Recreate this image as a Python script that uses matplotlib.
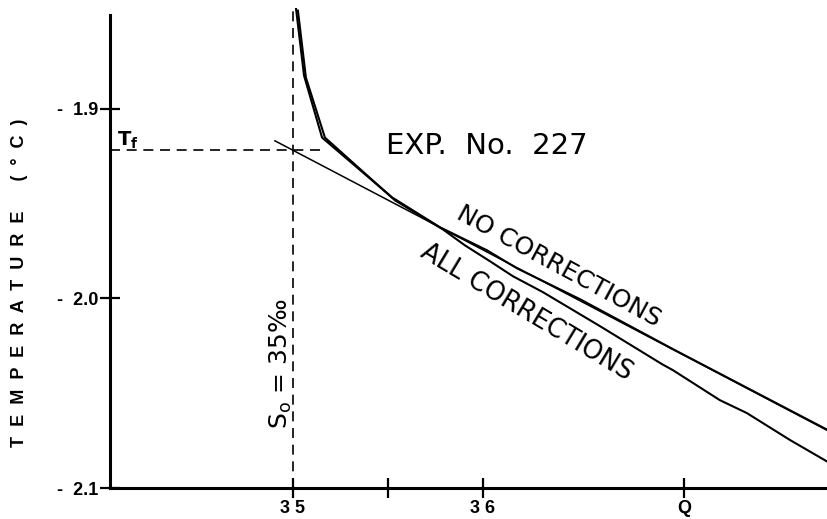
import matplotlib.pyplot as plt

# salinity (per mille) and temperature (deg C) traces
no_corr_s = [35.016, 35.058, 35.153, 35.521, 35.774, 36.021, 36.179, 36.511, 37.0, 37.816]
no_corr_t = [-1.8474, -1.8826, -1.9153, -1.9468, -1.9626, -1.9747, -1.9842, -2.0005, -2.0268, -2.0695]

all_corr_s = [35.026, 35.068, 35.168, 35.537, 35.789, 35.905, 36.037, 36.158, 36.316,
              36.616, 36.789, 36.942, 37.0, 37.247, 37.389, 37.616, 37.816]
all_corr_t = [-1.8484, -1.8837, -1.9153, -1.9484, -1.9637, -1.9721, -1.9805, -1.9884, -1.9968,
              -2.0147, -2.0253, -2.0347, -2.0379, -2.0537, -2.0605, -2.0747, -2.0863]

# straight fit through the linear part, meets S0 at the freezing point
s0 = 35.0
t_f = -1.922
fit_slope = -0.0525
fit_s = [34.905, 37.82]

x_ticks = [35.0, 35.5, 36.0, 37.06]
x_tick_labels = ['3 5', '', '3 6', 'Q']
y_ticks = [-2.1, -2.0, -1.9]
y_tick_labels = ['-  2.1', '-  2.0', '-  1.9']

fig = plt.figure(figsize=(8.28, 5.19), dpi=100)
ax = fig.add_axes([0.1329, 0.0597, 0.8671, 0.9249])
ax.set_xlim(34.037, 37.816)
ax.set_ylim(-2.1, -1.847)

for side in ('top', 'right'):
    ax.spines[side].set_visible(False)
ax.spines['left'].set_linewidth(2.2)
ax.spines['bottom'].set_linewidth(2.2)
ax.spines['left'].set_bounds(-2.1, -1.8505)

ax.set_xticks(x_ticks)
ax.set_xticklabels(x_tick_labels)
ax.set_yticks(y_ticks)
ax.set_yticklabels(y_tick_labels)
ax.tick_params(direction='inout', length=15, width=1.6, labelsize=13, pad=1)
for lab in ax.get_xticklabels() + ax.get_yticklabels():
    lab.set_fontweight('bold')
    lab.set_family('Liberation Sans')

# dashed guides for S0 and Tf
ax.plot([s0, s0], [-2.1, -1.847], color='black', lw=1.2, dashes=(6, 4))
ax.plot([34.037, 35.158], [t_f, t_f], color='black', lw=1.2, dashes=(6, 4))

# fitted line
ax.plot(fit_s, [t_f + fit_slope * (s - s0) for s in fit_s], color='black', lw=1.1)

# measured curves
ax.plot(no_corr_s, no_corr_t, color='black', lw=1.5, solid_joinstyle='round')
ax.plot(all_corr_s, all_corr_t, color='black', lw=1.5, solid_joinstyle='round')

ax.text(35.49, -1.9238, 'EXP.  No.  227', fontsize=21, ha='left', va='baseline')
ax.text(36.40, -1.9832, 'NO CORRECTIONS', fontsize=18, rotation=-28.5,
        ha='center', va='center', rotation_mode='anchor')
ax.text(36.23, -2.0074, 'ALL CORRECTIONS', fontsize=18.5, rotation=-31,
        ha='center', va='center', rotation_mode='anchor')
ax.text(34.075, -1.9195, r'T$_\mathregular{f}$', fontsize=14, fontweight='bold', ha='left', va='baseline')
ax.text(34.935, -2.0343, r'S$_\mathregular{o}$ = 35‰', fontsize=18, rotation=90,
        ha='center', va='center')

fig.text(0.024, 0.455, 'T  E  M  P  E  R  A  T  U  R  E      (  °  C  )', rotation=90,
         fontsize=13, fontweight='bold', family='Liberation Sans',
         ha='center', va='center')

fig.savefig('out.png', dpi=100)
